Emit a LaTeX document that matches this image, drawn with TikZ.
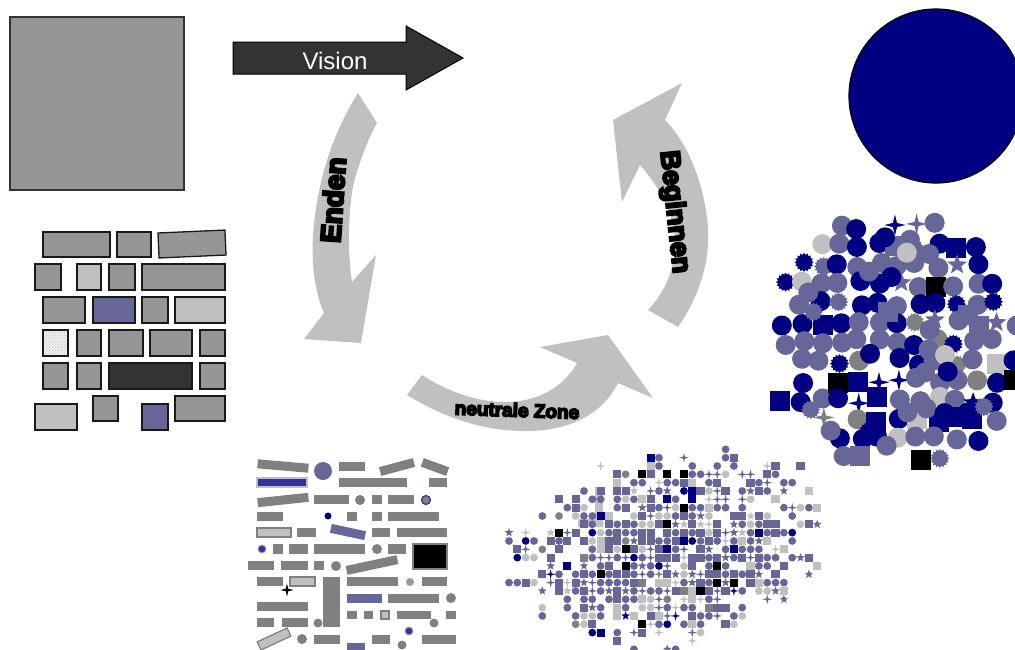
\documentclass[tikz,border=0pt]{standalone}
\usepackage{fontspec}
\setmainfont{Liberation Sans}
\newfontfamily\heavyfont{Liberation Sans}[BoldFeatures={FakeBold=8}]
\usetikzlibrary{patterns}
\definecolor{bg}{HTML}{666699}
\definecolor{navyc}{HTML}{000080}
\definecolor{lg}{HTML}{C0C0C0}
\definecolor{gbar}{HTML}{808080}
\definecolor{gbrick}{HTML}{969696}
\definecolor{darkc}{HTML}{333333}
\definecolor{blue2}{HTML}{333399}
\tikzset{
  brick/.style={fill=gbrick, draw=black!90, line width=1.3pt},
  gb/.style={fill=gbar},
  lgb/.style={fill=lg, draw=gbar, line width=1.2pt},
  arrowlabel/.style={inner sep=0pt, text=black},
  pics/fourstar/.style args={#1/#2}{code={\fill[fill=#1] (0:#2) -- (45:{0.28*#2}) -- (90:#2) -- (135:{0.28*#2}) -- (180:#2) -- (225:{0.28*#2}) -- (270:#2) -- (315:{0.28*#2}) -- cycle;}},
  pics/fivestar/.style args={#1/#2}{code={\fill[fill=#1] (-90:#2) -- (-54:{0.42*#2}) -- (-18:#2) -- (18:{0.42*#2}) -- (54:#2) -- (90:{0.42*#2}) -- (126:#2) -- (162:{0.42*#2}) -- (198:#2) -- (234:{0.42*#2}) -- cycle;}},
  pics/burst/.style args={#1/#2}{code={\fill[fill=#1] (0:#2) \foreach \k in {1,...,31}{ -- ({\k*11.25}:{#2*(1-0.2*mod(\k,2))}) } -- cycle;}}
}
\newcommand\rbar[5]{\path[#5, shift={(#1,#2)}, rotate=#4] ({-#3/2},-4.5) rectangle ({#3/2},4.5);}
\newcommand\pickBcolor{\ifnum\fbc<26 \def\fbcol{bg}\else\ifnum\fbc<34 \def\fbcol{lg}\else\ifnum\fbc<35 \def\fbcol{black}\else\ifnum\fbc<37 \def\fbcol{navyc}\else\ifnum\fbc<38 \def\fbcol{gbar}\else\def\fbcol{bg}\fi\fi\fi\fi\fi}
\newcommand\pickCcolor{\ifnum\fcc<17 \def\fccol{navyc}\else\ifnum\fcc<34 \def\fccol{bg}\else\ifnum\fcc<38 \def\fccol{lg}\else\ifnum\fcc<39 \def\fccol{gbar}\else\def\fccol{black}\fi\fi\fi\fi}
\newcommand\drawBitem{%
  \pickBcolor
  \ifnum\fbc=34 \def\fbt{9}\fi
  \ifnum\fbt<8 \fill[fill=\fbcol] (\fbx,\fby) circle[radius=3.9];%
  \else\ifnum\fbt<15 \fill[fill=\fbcol] ({\fbx-4.1},{\fby-4.1}) rectangle ({\fbx+4.1},{\fby+4.1});%
  \else\ifnum\fbt<18 \pic at (\fbx,\fby) {fourstar={\fbcol/4.8}};%
  \else \pic at (\fbx,\fby) {fivestar={\fbcol/4.6}};%
  \fi\fi\fi}
\newcommand\drawCitem{%
  \pickCcolor
  \ifnum\fcc=39 \def\fct{13}\fi
  \ifnum\fct<13 \fill[fill=\fccol] (\fcx,\fcy) circle[radius=10];%
  \else\ifnum\fct<15 \fill[fill=\fccol] ({\fcx-10},{\fcy-10}) rectangle ({\fcx+10},{\fcy+10});%
  \else\ifnum\fct<18 \pic at (\fcx,\fcy) {burst={\fccol/9.5}};%
  \else\ifnum\fct<19 \pic at (\fcx,\fcy) {fourstar={\fccol/10.5}};%
  \else \pic at (\fcx,\fcy) {fivestar={\fccol/10.5}};%
  \fi\fi\fi\fi}
\begin{document}
\begin{tikzpicture}[x=1pt,y=-1pt]
\useasboundingbox (0,0) rectangle (1015,649);
\clip (0,0) rectangle (1015,649);

% big gray square
\filldraw[fill=gbrick, draw=darkc, line width=1.5pt] (10,17) rectangle (184,190);

% Vision arrow
\filldraw[fill=darkc, draw=black, line width=1pt] (233,42) -- (406,42) -- (406,26) -- (463,58) -- (406,90) -- (406,74) -- (233,74) -- cycle;
\node[text=white, font=\fontsize{24}{24}\selectfont, inner sep=0pt] (vision) at (335,61) {Vision};

% navy circle
\filldraw[fill=navyc, draw=black, line width=1.2pt] (936,96) circle[radius=87];

% bricks
\path[brick] (43,232) rectangle (110,257);
\path[brick] (117,232) rectangle (151,257);
\path[brick, shift={(192,244)}, rotate=2.5] (-33.5,-12.5) rectangle (33.5,12.5);
\path[brick] (35,264) rectangle (61,290);
\path[brick, fill=lg] (77,264) rectangle (101,290);
\path[brick] (109,264) rectangle (135,290);
\path[brick] (142,264) rectangle (225,290);
\path[brick] (43,297) rectangle (85,323);
\path[brick, fill=bg] (93,297) rectangle (135,323);
\path[brick] (142,297) rectangle (168,323);
\path[brick, fill=lg] (175,297) rectangle (225,323);
\fill[gray!12] (43,330) rectangle (68,356);
\fill[pattern=crosshatch dots, pattern color=gray!55] (43,330) rectangle (68,356);
\draw[black!90, line width=1.3pt] (43,330) rectangle (68,356);
\path[brick] (77,330) rectangle (101,356);
\path[brick] (109,330) rectangle (143,356);
\path[brick] (150,330) rectangle (192,356);
\path[brick] (200,330) rectangle (225,356);
\path[brick] (43,363) rectangle (68,389);
\path[brick] (77,363) rectangle (101,389);
\path[brick, fill=darkc] (109,363) rectangle (192,389);
\path[brick] (200,363) rectangle (225,389);
\path[brick, fill=lg] (35,404) rectangle (77,430);
\path[brick] (93,396) rectangle (118,421);
\path[brick, fill=bg] (142,404) rectangle (168,430);
\path[brick] (175,396) rectangle (225,421);

% curved arrows
\fill[lg] (358,93) .. controls (338,125) and (318,170) .. (313,235) .. controls (311,268) and (316,295) .. (324,313) -- (304,339) -- (361,343) -- (376,255) -- (352,282) .. controls (347,250) and (348,200) .. (356,175) .. controls (362,155) and (370,135) .. (377,123) -- cycle;
\fill[lg] (665,120) -- (682,83) -- (613,120) -- (622,202) -- (640,165) .. controls (662,190) and (677,220) .. (675,250) .. controls (673,275) and (662,295) .. (648,310) -- (678,327) .. controls (697,300) and (710,265) .. (708,230) .. controls (706,190) and (690,145) .. (665,120) -- cycle;
\fill[lg] (407,395) .. controls (440,415) and (480,432) .. (530,431) .. controls (575,430) and (605,410) .. (618,383) -- (653,398) -- (608,335) -- (540,347) -- (577,363) .. controls (565,385) and (540,402) .. (505,402) .. controls (475,402) and (445,390) .. (422,375) -- cycle;

% arrow labels
\node[arrowlabel, font=\heavyfont\bfseries\fontsize{28}{28}\selectfont, rotate=86] (enden) at (333,200) {Enden};
\node[arrowlabel, font=\heavyfont\bfseries\fontsize{27}{27}\selectfont, rotate=-84] (beginnen) at (674,212) {Beginnen};
\node[arrowlabel, font=\heavyfont\bfseries\fontsize{19}{19}\selectfont, rotate=-2] (zone) at (517,410) {neutrale Zone};

% field A (bottom left)
\foreach \a/\b/\c/\d in {339/462/365/471, 339/478/407/487, 429/478/447/487, 314/495/349/504, 372/495/382/504, 388/495/414/504, 257/512/283/521, 347/512/357/521, 372/512/382/521, 388/512/439/521, 297/528/316/537, 372/528/390/537, 397/528/447/537, 273/544/283/554, 289/544/308/554, 314/544/365/554, 388/544/406/554, 248/561/274/570, 281/561/308/570, 314/561/324/570, 257/577/283/586, 323/577/340/627, 347/577/398/586, 422/577/447/586, 388/594/439/603, 257/602/308/611, 347/611/357/619, 364/611/373/619, 397/611/431/619, 446/611/456/619, 257/618/274/627, 282/618/308/627, 314/635/340/644, 372/635/390/644, 422/635/456/644}
  {\fill[gbar] (\a,\b) rectangle (\c,\d);}
\rbar{283}{466}{51}{-5}{gb}
\rbar{397}{467}{35}{15}{gb}
\rbar{435}{467}{27}{-20}{gb}
\rbar{283}{500}{51}{6}{gb}
\rbar{372}{565}{52}{12}{gb}
\rbar{348}{532}{35}{-12}{fill=bg}
\rbar{274}{639}{33}{25}{lgb}
\foreach \a/\b/\r in {360/500/5, 377/549/5, 336/566/5, 451/598/5, 318/623/4.5, 434/623/4.5, 302/639/5, 402/645/4.5}
  {\fill[gbar] (\a,\b) circle[radius=\r];}
\fill[gbar!80] (410,582) circle[radius=4];
\fill[bg] (323,471) circle[radius=9];
\filldraw[fill=gbar, draw=blue2, line width=1.2pt] (426,500) circle[radius=4.5];
\fill[navyc] (328,516) circle[radius=3.5];
\filldraw[fill=blue2, draw=gbar!70, line width=1pt] (262,549) circle[radius=4];
\filldraw[fill=blue2, draw=gbar!70, line width=1pt] (409,631) circle[radius=4];
\filldraw[fill=blue2, draw=lg, line width=1.2pt] (257,478) rectangle (307,487);
\path[lgb] (257,528) rectangle (291,537);
\path[lgb] (290,577) rectangle (315,586);
\path[lgb] (381,611) rectangle (389,619);
\fill[bg] (347,594) rectangle (382,603);
\fill[bg] (347,643) rectangle (365,650);
\filldraw[fill=black, draw=gbar, line width=1.5pt] (413,544) rectangle (447,569);
\pic at (287,590) {fourstar={black/6.5}};

% field B (bottom middle scatter)
\fill[lg] (595,487) rectangle (603,520);
\fill[lg] (578,519) rectangle (603,527);
\pgfmathsetseed{12345}
\foreach \i in {0,...,40}{
  \foreach \j in {0,...,25}{
    \pgfmathsetmacro\fbx{509+\i*8.33}
    \pgfmathsetmacro\fby{441+\j*8.33}
    \pgfmathsetmacro\fbu{(\fbx-668+0.35*(\fby-548))/160}
    \pgfmathsetmacro\fbv{(\fby-548)/100}
    \pgfmathsetmacro\fbd{(\fbu)*(\fbu)+(\fbv)*(\fbv)}
    \pgfmathsetmacro\fbp{max(0,min(0.93,1.12-0.95*\fbd))}
    \pgfmathtruncatemacro\fbs{ifthenelse(rnd<\fbp,1,0)}
    \pgfmathtruncatemacro\fbt{int(rnd*19.99)}
    \pgfmathtruncatemacro\fbc{int(rnd*39.99)}
    \ifnum\fbs=1 \drawBitem\fi
  }
}

% field C (right cluster)
\pgfmathsetseed{2024}
\foreach \i in {0,...,14}{
  \foreach \j in {0,...,15}{
    \pgfmathsetmacro\fcx{763+\i*19.3+(rnd-0.5)*7}
    \pgfmathsetmacro\fcy{207+\j*19.3+(rnd-0.5)*7}
    \pgfmathsetmacro\fcu{(\fcx-895)/128}
    \pgfmathsetmacro\fcv{(\fcy-342)/130}
    \pgfmathsetmacro\fcd{(\fcu)*(\fcu)+(\fcv)*(\fcv)}
    \pgfmathsetmacro\fcp{ifthenelse(\fcd<0.8,0.97,ifthenelse(\fcd<1.02,0.55,0))}
    \pgfmathtruncatemacro\fcs{ifthenelse(rnd<\fcp,1,0)}
    \pgfmathtruncatemacro\fct{int(rnd*19.99)}
    \pgfmathtruncatemacro\fcc{int(rnd*39.99)}
    \ifnum\fcs=1 \drawCitem\fi
  }
}
\foreach \i in {0,...,13}{
  \foreach \j in {0,...,14}{
    \pgfmathsetmacro\fcx{772+\i*19.3+(rnd-0.5)*7}
    \pgfmathsetmacro\fcy{217+\j*19.3+(rnd-0.5)*7}
    \pgfmathsetmacro\fcu{(\fcx-895)/128}
    \pgfmathsetmacro\fcv{(\fcy-342)/130}
    \pgfmathsetmacro\fcd{(\fcu)*(\fcu)+(\fcv)*(\fcv)}
    \pgfmathsetmacro\fcp{ifthenelse(\fcd<0.8,0.22,0)}
    \pgfmathtruncatemacro\fcs{ifthenelse(rnd<\fcp,1,0)}
    \pgfmathtruncatemacro\fct{int(rnd*19.99)}
    \pgfmathtruncatemacro\fcc{int(rnd*38.99)}
    \ifnum\fcs=1 \drawCitem\fi
  }
}
\end{tikzpicture}
\end{document}
